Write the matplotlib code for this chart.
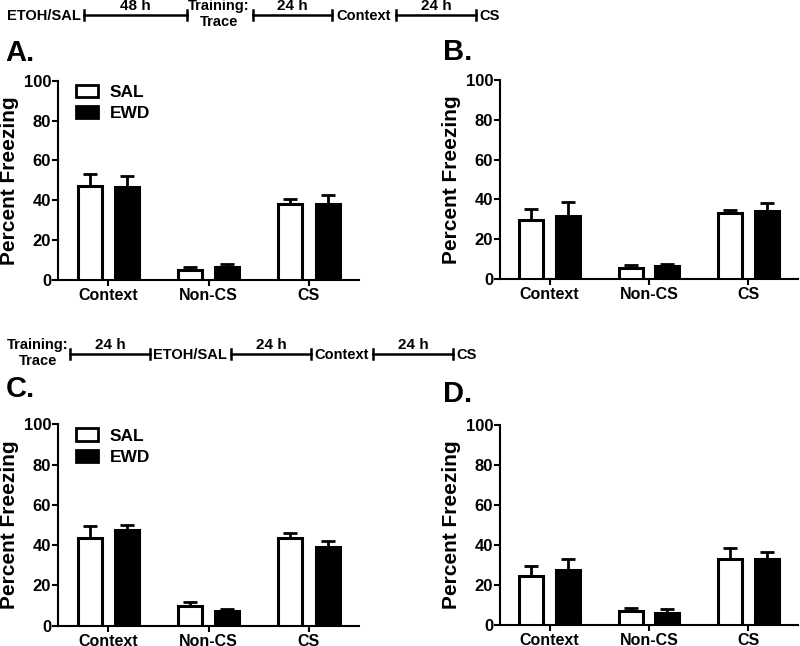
import numpy as np
import matplotlib
matplotlib.use('Agg')
import matplotlib.pyplot as plt
from matplotlib.patches import Patch

plt.rcParams['font.family'] = ['Liberation Sans', 'DejaVu Sans']
plt.rcParams['font.weight'] = 'bold'

# Datos (media y SEM)
grupos = ['Context', 'Non-CS', 'CS']

a_sal = [47.4, 5.0, 38.3]
a_sal_err = [5.7, 1.7, 2.4]
a_ewd = [46.9, 6.5, 38.0]
a_ewd_err = [5.4, 1.7, 4.7]

b_sal = [29.6, 5.7, 33.2]
b_sal_err = [5.6, 1.3, 1.6]
b_ewd = [31.8, 6.7, 34.3]
b_ewd_err = [6.9, 1.0, 4.0]

c_sal = [43.5, 9.9, 43.4]
c_sal_err = [6.2, 1.9, 2.5]
c_ewd = [47.5, 7.5, 39.2]
c_ewd_err = [2.3, 0.9, 3.0]

d_sal = [24.5, 7.0, 32.8]
d_sal_err = [4.8, 1.3, 5.5]
d_ewd = [27.5, 6.2, 33.0]
d_ewd_err = [5.5, 1.8, 3.7]

fig = plt.figure(figsize=(8, 6.46), dpi=100)


def panel(rect, sal, sal_err, ewd, ewd_err, letra, pos_letra, leyenda):
    ax = fig.add_axes(rect)
    x = np.arange(len(grupos))
    w = 0.24
    off = 0.185
    for xs, vals, errs, color in [(x - off, sal, sal_err, 'white'),
                                  (x + off, ewd, ewd_err, 'black')]:
        ax.bar(xs, vals, width=w, color=color, edgecolor='black',
               linewidth=2.2, zorder=3)
        ax.errorbar(xs, vals, yerr=[np.zeros(len(vals)), errs], fmt='none',
                    ecolor='black', elinewidth=2, capsize=5, capthick=2,
                    zorder=2)
    ax.set_xlim(-0.5, 2.5)
    ax.set_ylim(0, 100)
    ax.set_yticks([0, 20, 40, 60, 80, 100])
    ax.set_xticks(x)
    ax.set_xticklabels(grupos, fontsize=11.5, fontweight='bold')
    ax.tick_params(axis='y', labelsize=12, width=1.5, length=4, pad=1)
    ax.tick_params(axis='x', width=1.5, length=4, pad=2)
    for s in ['top', 'right']:
        ax.spines[s].set_visible(False)
    for s in ['left', 'bottom']:
        ax.spines[s].set_linewidth(1.5)
    ax.set_ylabel('Percent Freezing', fontsize=15, fontweight='bold')
    ax.yaxis.set_label_coords(-0.13, 0.5)
    ax.text(pos_letra[0], pos_letra[1], letra, transform=ax.transAxes,
            fontsize=21, fontweight='bold', va='center', ha='left')
    if leyenda:
        handles = [Patch(facecolor='white', edgecolor='black', linewidth=2),
                   Patch(facecolor='black', edgecolor='black', linewidth=2)]
        ax.legend(handles, ['SAL', 'EWD'], loc='upper left',
                  bbox_to_anchor=(0.06, 0.98), frameon=False, fontsize=12.5,
                  handlelength=1.25, handleheight=0.72, handletextpad=0.7,
                  labelspacing=0.35, borderpad=0, borderaxespad=0)
    return ax


panel([0.0725, 0.5666, 0.3765, 0.3084], a_sal, a_sal_err, a_ewd, a_ewd_err,
      'A.', (-0.175, 1.14), True)
panel([0.625, 0.568, 0.3725, 0.308], b_sal, b_sal_err, b_ewd, b_ewd_err,
      'B.', (-0.19, 1.14), False)
panel([0.0725, 0.0314, 0.3765, 0.3116], c_sal, c_sal_err, c_ewd, c_ewd_err,
      'C.', (-0.175, 1.175), True)
panel([0.625, 0.0325, 0.3725, 0.3095], d_sal, d_sal_err, d_ewd, d_ewd_err,
      'D.', (-0.19, 1.155), False)

# Línea de tiempo (coordenadas en píxeles)
tl = fig.add_axes([0, 0, 1, 1])
tl.set_xlim(0, 800)
tl.set_ylim(646, 0)
tl.axis('off')


def segmento(x0, x1, y, etiqueta):
    tl.plot([x0, x1], [y, y], color='black', lw=1.8)
    tl.plot([x0, x0], [y - 5, y + 5], color='black', lw=1.8)
    tl.plot([x1, x1], [y - 5, y + 5], color='black', lw=1.8)
    tl.text((x0 + x1) / 2, y - 2, etiqueta, ha='center', va='bottom',
            fontsize=11, fontweight='bold')


def txt(x, y, s, ha='left'):
    tl.text(x, y, s, ha=ha, va='center', fontsize=10.5, fontweight='bold')


# Arriba
y1 = 15
txt(7, y1 + 1, 'ETOH/SAL')
segmento(84, 187, y1, '48 h')
tl.text(219, 6, 'Training:', ha='center', va='center', fontsize=10.5, fontweight='bold')
tl.text(219, 22, 'Trace', ha='center', va='center', fontsize=10.5, fontweight='bold')
segmento(253, 332, y1, '24 h')
txt(336, y1 + 1, 'Context')
segmento(396, 476, y1, '24 h')
txt(479, y1 + 1, 'CS')

# Medio
y2 = 354
tl.text(38, 345, 'Training:', ha='center', va='center', fontsize=10.5, fontweight='bold')
tl.text(38, 361, 'Trace', ha='center', va='center', fontsize=10.5, fontweight='bold')
segmento(70, 150, y2, '24 h')
txt(153, y2 + 1, 'ETOH/SAL')
segmento(231, 311, y2, '24 h')
txt(314, y2 + 1, 'Context')
segmento(373, 453, y2, '24 h')
txt(456, y2 + 1, 'CS')

fig.savefig('out.png', dpi=100)
